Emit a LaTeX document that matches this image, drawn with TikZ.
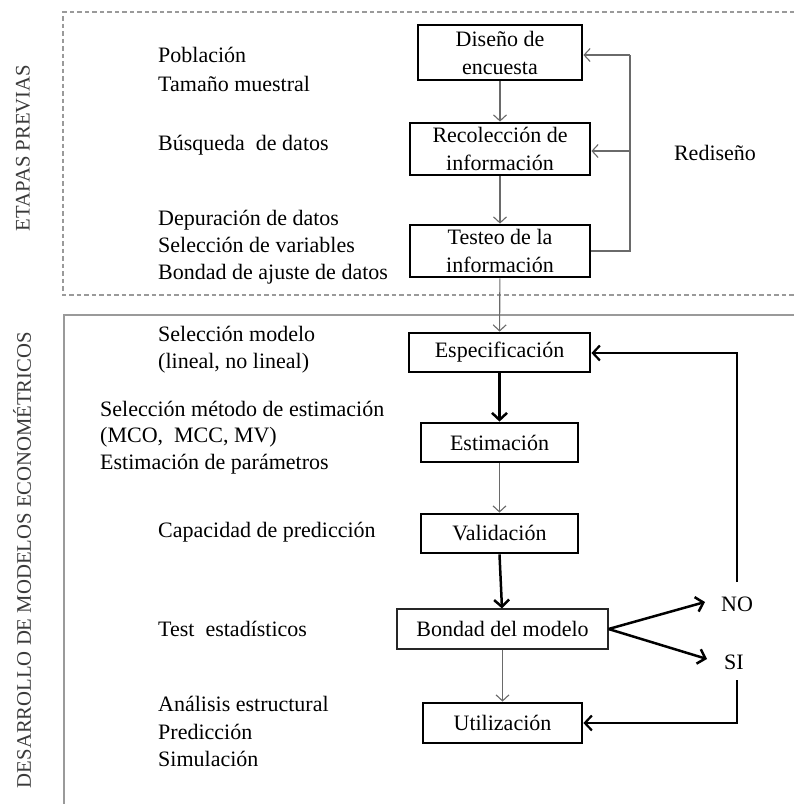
\documentclass[tikz,border=0pt]{standalone}
\usepackage{fontspec}
\setmainfont{Liberation Serif}
\usetikzlibrary{arrows.meta}
\definecolor{framegray}{HTML}{9A9A9A}
\definecolor{thingray}{HTML}{6A6A6A}
\definecolor{sidetext}{HTML}{3A3A3A}
\begin{document}
\begin{tikzpicture}[x=1pt,y=-1pt,
  every node/.style={font=\fontsize{22}{28}\selectfont, inner sep=0pt},
  thickbox/.style={draw=black, line width=2.8pt, align=center},
  thinbox/.style={draw=black!85, line width=1.1pt, align=center},
  side/.style={anchor=mid west},
  sidelabel/.style={rotate=90, text=sidetext, font=\fontsize{20.7}{24}\selectfont},
  thinarrow/.style={draw=thingray, line width=1.1pt, -{Straight Barb[length=6pt,width=13pt,line width=1.1pt]}},
  thickarrow/.style={draw=black, line width=2.5pt, -{Straight Barb[length=7pt,width=15pt,line width=2.5pt]}},
  looparrow/.style={draw=black, line width=2.2pt, -{Straight Barb[length=7pt,width=15pt,line width=2.2pt]}},
  framedash/.style={draw=framegray, line width=1.6pt, dash pattern=on 4.5pt off 3pt},
  framesolid/.style={draw=framegray, line width=1.6pt}
]
\useasboundingbox (0,0) rectangle (794,804);

% frames
\draw[framedash] (794,12) -- (63,12) -- (63,295) -- (794,295);
\draw[framesolid] (794,315) -- (64,315) -- (64,804);

% side labels
\node[sidelabel] (lab1) at (23,148) {ETAPAS PREVIAS};
\node[sidelabel] (lab2) at (22,560) {DESARROLLO DE MODELOS ECONOMÉTRICOS};

% boxes
\node[thickbox, minimum width=164pt, minimum height=55pt] (dis) at (500,52.5) {Diseño de\\encuesta};
\node[thickbox, minimum width=180pt, minimum height=52pt] (rec) at (500,149) {Recolección de\\información};
\node[thickbox, minimum width=180pt, minimum height=52pt] (tes) at (500,251) {Testeo de la\\información};
\node[thickbox, minimum width=181pt, minimum height=39pt] (esp) at (499.5,352.5) {Especificación};
\node[thickbox, minimum width=157pt, minimum height=39pt] (est) at (499.5,442.5) {Estimación};
\node[thickbox, minimum width=157pt, minimum height=39pt] (val) at (499.5,533.5) {Validación};
\node[thinbox, minimum width=211pt, minimum height=40pt] (bon) at (502.5,629) {Bondad del modelo};
\node[thickbox, minimum width=159pt, minimum height=40pt] (uti) at (502.5,723) {Utilización};

% right labels
\node (red) at (715,153) {Rediseño};
\node (no) at (737,604) {NO};
\node (si) at (734,662) {SI};

% left texts
\node[side] (t1) at (158,60) {Población};
\node[side] (t2) at (158,89) {Tamaño muestral};
\node[side] (t3) at (158,148) {Búsqueda\ \ de datos};
\node[side] (t4) at (158,223) {Depuración de datos};
\node[side] (t5) at (158,250) {Selección de variables};
\node[side] (t6) at (158,277) {Bondad de ajuste de datos};
\node[side] (t7) at (158,339) {Selección modelo};
\node[side] (t8) at (158,366) {(lineal, no lineal)};
\node[side] (t9) at (100,414) {Selección método de estimación};
\node[side] (t10) at (100,440) {(MCO,\ \ MCC, MV)};
\node[side] (t11) at (100,467) {Estimación de parámetros};
\node[side] (t12) at (158,535) {Capacidad de predicción};
\node[side] (t13) at (158,634) {Test\ \ estadísticos};
\node[side] (t14) at (158,709) {Análisis estructural};
\node[side] (t15) at (158,737) {Predicción};
\node[side] (t16) at (158,764) {Simulación};

% vertical flow
\draw[thinarrow] (dis) -- (rec);
\draw[thinarrow] (rec) -- (tes);
\draw[thinarrow] (tes) -- (esp);
\draw[thickarrow] (esp) -- (est);
\draw[thinarrow] (est) -- (val);
\draw[thickarrow] (val.south) -- (bon.north -| 502,0);
\draw[thinarrow] (bon.south) -- (uti.north);

% redesign loop
\coordinate (r1) at (630,251);
\coordinate (r2) at (630,55);
\coordinate (r3) at (630,151);
\draw[draw=thingray, line width=1.1pt] (tes.east |- r1) -- (r1) -- (r2);
\draw[thinarrow] (r2) -- (dis.east |- r2);
\draw[thinarrow] (r3) -- (rec.east |- r3);

% decision arrows
\coordinate (notip) at (705,602);
\coordinate (sitip) at (707,659);
\draw[thickarrow] (bon.east) -- (notip);
\draw[thickarrow] (bon.east) -- (sitip);

% feedback loops
\coordinate (n0) at (737,582);
\coordinate (n1) at (737,353);
\coordinate (s0) at (737,680);
\coordinate (s1) at (737,723);
\draw[looparrow] (n0) -- (n1) -- (esp.east |- n1);
\draw[looparrow] (s0) -- (s1) -- (uti.east |- s1);
\end{tikzpicture}
\end{document}
